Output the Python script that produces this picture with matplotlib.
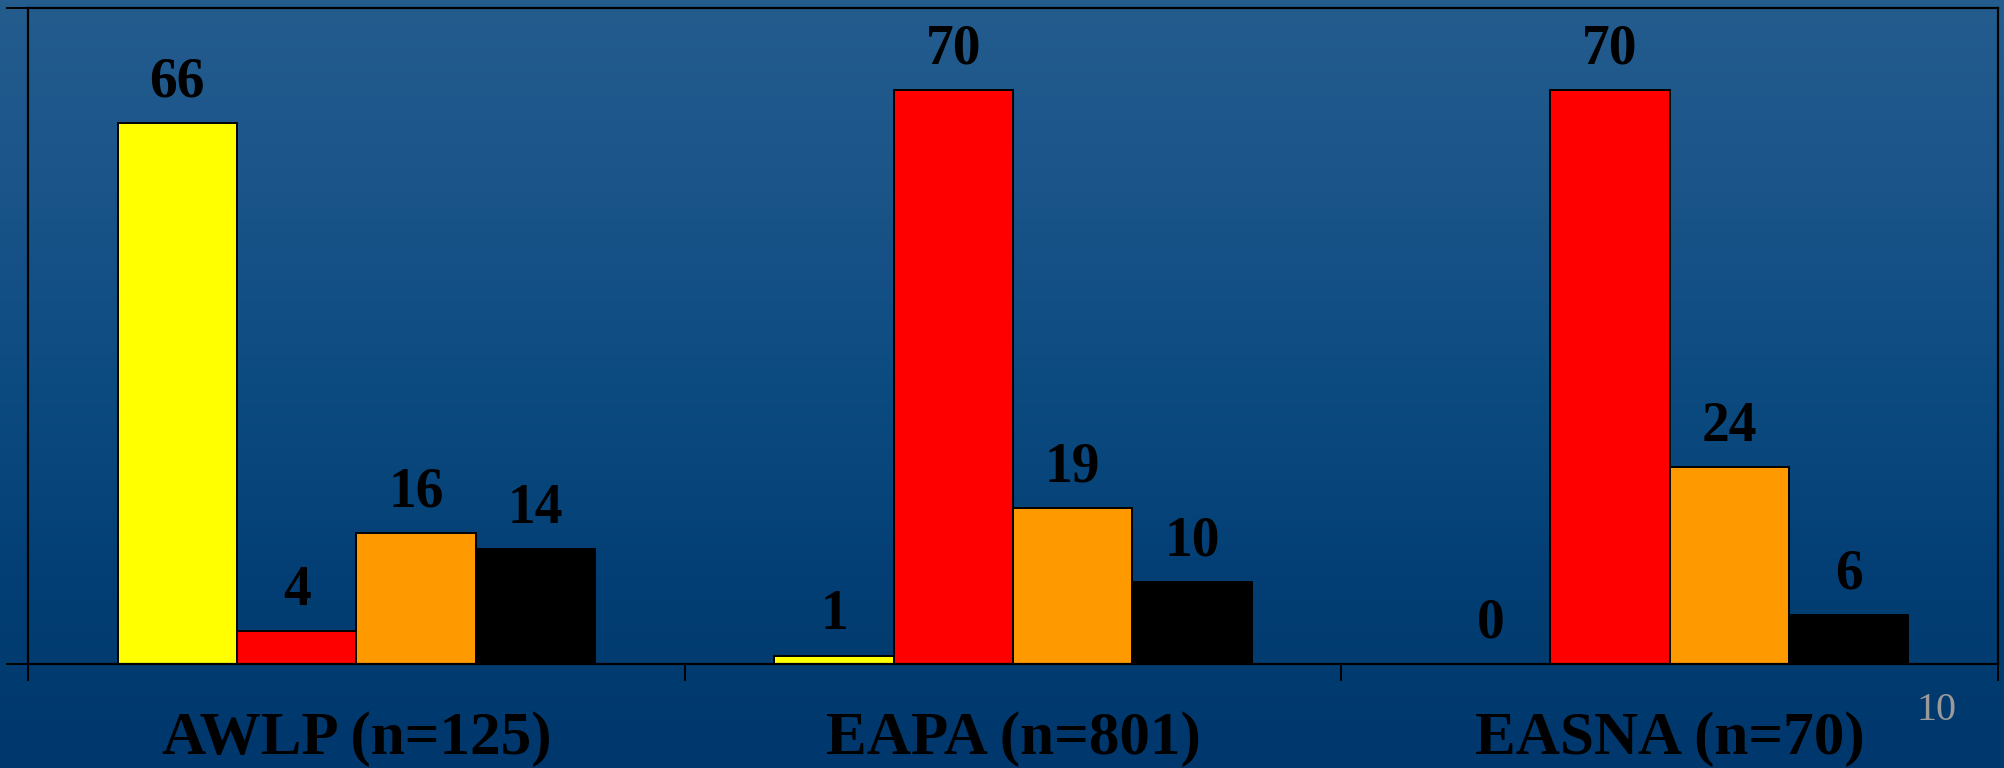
import numpy as np
import matplotlib.pyplot as plt
from matplotlib.colors import LinearSegmentedColormap
from matplotlib.transforms import blended_transform_factory

groups = ["AWLP (n=125)", "EAPA (n=801)", "EASNA (n=70)"]
series_colors = ["#FFFF00", "#FF0000", "#FF9900", "#000000"]
values = [
    [66, 1, 0],     # yellow
    [4, 70, 70],    # red
    [16, 19, 24],   # orange
    [14, 10, 6],    # black
]
page_number = "10"

fig = plt.figure(figsize=(20.04, 7.68), dpi=100)

# background gradient over the whole figure
bg = fig.add_axes([0, 0, 1, 1], zorder=-10)
grad = LinearSegmentedColormap.from_list(
    "bg", ["#245C8E", "#1A5489", "#0C4B80", "#033F74", "#00376C"])
bg.imshow(np.linspace(0, 1, 256).reshape(-1, 1), aspect="auto", cmap=grad,
          extent=[0, 1, 0, 1])
bg.set_axis_off()

ax = fig.add_axes([28 / 2004, 104 / 768, 1970 / 2004, 656 / 768])
ax.patch.set_alpha(0)

n = len(values)
width = 1 / 5.5
x = np.arange(len(groups))
for i, (vals, col) in enumerate(zip(values, series_colors)):
    pos = x + (i - (n - 1) / 2) * width
    bars = ax.bar(pos, vals, width, color=col, edgecolor="black", linewidth=1.4)
    for b, v in zip(bars, vals):
        ax.annotate(str(v), (b.get_x() + b.get_width() / 2, v),
                    xytext=(0, 19), textcoords="offset points",
                    ha="center", va="baseline", fontsize=40,
                    fontweight="bold", family="Liberation Serif", color="black")

ax.set_xlim(-0.5, len(groups) - 0.5)
ax.set_ylim(0, 80)
ax.set_yticks([0, 80])
ax.set_yticklabels([])
ax.set_xticks(np.arange(len(groups) + 1) - 0.5)
ax.set_xticklabels([])
ax.tick_params(axis="y", direction="out", length=16, width=1.4, color="black")
ax.tick_params(axis="x", direction="out", length=12, width=1.4, color="black")
for s in ax.spines.values():
    s.set_linewidth(1.6)
    s.set_color("black")

trans = blended_transform_factory(ax.transData, fig.transFigure)
for xi, g in zip(x, groups):
    ax.text(xi, 14 / 768, g, transform=trans, ha="center", va="baseline",
            fontsize=44, fontweight="bold", family="Liberation Serif",
            color="black", clip_on=False)

fig.text(1936 / 2004, 1 - 720 / 768, page_number, ha="center", va="baseline",
         fontsize=29, family="Liberation Serif", color="#9A9A9A")

fig.savefig("out.png", dpi=100)
